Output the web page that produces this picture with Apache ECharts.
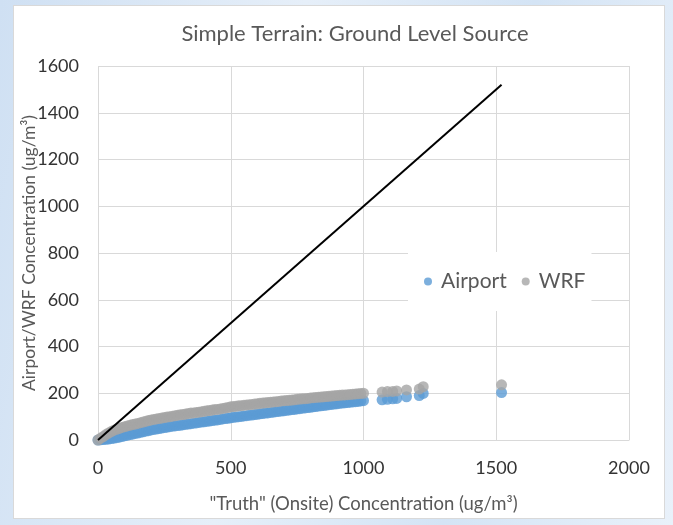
<!DOCTYPE html>
<html>
<head>
<meta charset="utf-8">
<script src="https://cdn.jsdelivr.net/npm/echarts@6/dist/echarts.min.js"></script>
<style>
  html, body { margin: 0; padding: 0; width: 673px; height: 525px; overflow: hidden;
    background: linear-gradient(100deg, #cfe0f3 0%, #e6eff9 40%, #d4e4f5 70%, #e9f1fa 100%); }
  #panel { position: absolute; left: 13px; top: 5px; width: 652px; height: 514px; background: #ffffff;
    border: 1px solid #d9d9d9; box-sizing: border-box; }
  #chart { position: absolute; left: 0; top: 0; width: 673px; height: 525px; }
</style>
</head>
<body>
<div id="panel"></div>
<div id="chart"></div>
<script>
// Onsite ("truth") concentrations
const truthX = [0,10,20,30,40,50,60,70,80,90,100,110,120,130,140,150,160,170,180,190,
  200,210,220,230,240,250,260,270,280,290,300,310,320,330,340,350,360,370,380,390,
  400,410,420,430,440,450,460,470,480,490,500,510,520,530,540,550,560,570,580,590,
  600,610,620,630,640,650,660,670,680,690,700,710,720,730,740,750,760,770,780,790,
  800,810,820,830,840,850,860,870,880,890,900,910,920,930,940,950,960,970,980,990,
  1000,1070,1090,1110,1125,1162,1210,1225,1520];
// WRF-based predicted concentrations
const wrfY = [0,8,15,23,30,36,42,46,50,54,57,60,63,66,68,71,74,77,80,83,
  86,88,90,92,94,96,98,100,102,104,106,108,109,111,113,115,116,118,119,121,
  123,125,126,128,130,131,133,135,137,139,142,143,144,146,147,149,150,151,152,154,
  155,157,158,159,160,162,163,164,165,167,168,169,170,171,172,174,175,176,177,178,
  180,181,182,183,184,185,186,187,188,189,190,191,192,193,194,195,196,197,198,199,
  200,205,207,208,210,214,218,228,236];
// Airport-based predicted concentrations
const airportY = [0,1,2,3,4,6,8,10,12,15,18,20,23,25,28,30,33,35,38,40,
  43,45,47,49,51,53,55,57,59,60,62,63,65,67,68,70,72,73,75,77,
  78,80,81,83,85,86,88,90,92,93,95,97,98,100,101,103,104,106,107,109,
  110,112,113,115,116,118,119,121,122,124,125,127,128,130,131,133,134,136,137,139,
  140,142,143,145,146,148,149,151,152,154,155,157,158,159,160,162,163,164,165,167,
  168,172,174,176,178,185,190,199,203];
// 1:1 reference line end points
const oneToOneX = [0, 1520];
const oneToOneY = [0, 1520];

const xTicks = { min: 0, max: 2000, interval: 500 };
const yTicks = { min: 0, max: 1600, interval: 200 };

const pairs = (xs, ys) => xs.map((x, i) => [x, ys[i]]);

const chart = echarts.init(document.getElementById('chart'));
const font = 'Lato, "Open Sans", sans-serif';
chart.setOption({
  backgroundColor: 'transparent',
  animation: false,
  title: {
    text: 'Simple Terrain: Ground Level Source',
    left: 350, top: 18, textAlign: 'center',
    textStyle: { fontFamily: font, fontSize: 22, fontWeight: 'normal', color: '#595959' }
  },
  grid: { left: 98, right: 44, top: 66, bottom: 85 },
  legend: {
    data: ['Airport', 'WRF'],
    left: 408, top: 252,
    padding: [19, 6, 19, 16],
    backgroundColor: '#ffffff',
    icon: 'circle', itemWidth: 8, itemHeight: 8, itemGap: 15,
    textStyle: { fontFamily: font, fontSize: 21, color: '#595959', padding: [0, 0, 0, 4] }
  },
  xAxis: {
    type: 'value', min: xTicks.min, max: xTicks.max, interval: xTicks.interval,
    name: '"Truth" (Onsite) Concentration (ug/m³)',
    nameLocation: 'middle', nameGap: 55,
    nameTextStyle: { fontFamily: font, fontSize: 18.5, color: '#595959' },
    axisLine: { show: true, lineStyle: { color: '#d9d9d9' } },
    axisTick: { show: false },
    axisLabel: { fontFamily: font, fontSize: 18, color: '#333333', margin: 19,
      formatter: v => String(v) },
    splitLine: { show: true, lineStyle: { color: '#d9d9d9' } }
  },
  yAxis: {
    type: 'value', min: yTicks.min, max: yTicks.max, interval: yTicks.interval,
    name: 'Airport/WRF Concentration (ug/m³)',
    nameLocation: 'middle', nameGap: 60, nameRotate: 90, nameMoveOverlap: false,
    nameTextStyle: { fontFamily: font, fontSize: 17.5, color: '#595959' },
    axisLine: { show: false },
    axisTick: { show: false },
    axisLabel: { fontFamily: font, fontSize: 18, color: '#333333', margin: 19,
      formatter: v => String(v) },
    splitLine: { show: true, lineStyle: { color: '#d9d9d9' } }
  },
  series: [
    {
      name: 'Airport', type: 'scatter', symbol: 'circle', symbolSize: 11,
      itemStyle: { color: '#5B9BD5' },
      data: pairs(truthX, airportY)
    },
    {
      name: 'WRF', type: 'scatter', symbol: 'circle', symbolSize: 11,
      itemStyle: { color: '#A5A5A5' },
      data: pairs(truthX, wrfY)
    },
    {
      name: '1:1', type: 'line', showSymbol: false, symbol: 'none',
      lineStyle: { color: '#000000', width: 2 },
      data: pairs(oneToOneX, oneToOneY), z: 5
    }
  ]
});
</script>
</body>
</html>
